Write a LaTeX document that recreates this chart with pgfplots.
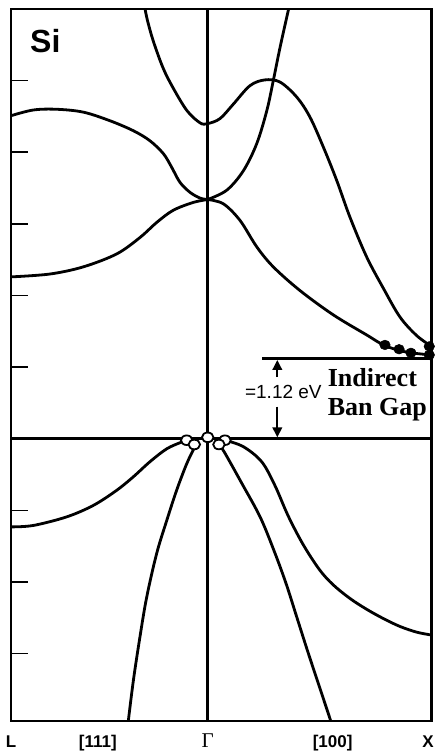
\documentclass[border=0pt]{standalone}
\usepackage{fontspec}
\setmainfont{Liberation Serif}
\setsansfont{Liberation Sans}
\usepackage{pgfplots}
\pgfplotsset{compat=1.18}
\usetikzlibrary{arrows.meta}

\begin{document}
\begin{tikzpicture}
\begin{axis}[
  name=ax,
  scale only axis,
  width=420.5pt, height=712pt,
  xmin=-0.879, xmax=1, ymin=-3.94, ymax=6,
  axis line style={line width=2.6pt},
  ytick={-3,-2,-1,1,2,3,4,5},
  yticklabels={},
  ytick pos=left,
  tick align=inside,
  major tick length=17pt,
  ytick style={black, line width=1.6pt},
  xtick={-0.879,-0.491,0,0.558,0.985},
  xticklabels={L,[111],{\rmfamily\mdseries\fontsize{21}{21}\selectfont Γ},[100],X},
  xtick style={draw=none},
  xticklabel style={font=\sffamily\bfseries\fontsize{17}{17}\selectfont, anchor=base, yshift=-26pt},
  band/.style={black, line width=2.8pt, smooth, tension=0.55, mark=none},
  edge/.style={black, line width=2.8pt, mark=none},
]

% conduction band: Gamma_2' branch (left and right of Gamma)
\addplot[band] coordinates {
 (-0.283,6.05) (-0.270,5.85) (-0.244,5.56) (-0.200,5.18) (-0.155,4.90)
 (-0.0925,4.58) (-0.034,4.41) (0,4.40) (0.055,4.47) (0.114,4.67)
 (0.189,4.93) (0.256,5.01) (0.323,4.98) (0.398,4.77) (0.457,4.49)
 (0.517,4.07) (0.576,3.61) (0.636,3.09) (0.710,2.54) (0.785,2.10)
 (0.859,1.70) (0.934,1.44) (1.0,1.29)};

% Gamma_15 bands along [111]
\addplot[band] coordinates {
 (-0.879,4.51) (-0.779,4.59) (-0.675,4.60) (-0.556,4.56) (-0.437,4.44)
 (-0.332,4.30) (-0.258,4.16) (-0.198,3.98) (-0.161,3.79) (-0.124,3.58)
 (-0.079,3.44) (-0.034,3.36) (0,3.34)};
\addplot[band] coordinates {
 (-0.879,2.26) (-0.705,2.30) (-0.556,2.40) (-0.407,2.58) (-0.3025,2.81)
 (-0.228,3.02) (-0.154,3.19) (-0.064,3.30) (0,3.34)};

% Gamma_15 bands along [100]
\addplot[band] coordinates {
 (0,3.34) (0.085,3.47) (0.159,3.74) (0.219,4.12) (0.264,4.58)
 (0.293,5.00) (0.323,5.46) (0.360,5.98) (0.365,6.05)};
\addplot[band] coordinates {
 (0,3.34) (0.070,3.28) (0.144,3.05) (0.219,2.68) (0.293,2.40)
 (0.412,2.07) (0.561,1.73) (0.710,1.45) (0.792,1.30) (0.889,1.21) (1.0,1.17)};

% valence bands
\addplot[band] coordinates {
 (-0.879,-1.23) (-0.779,-1.21) (-0.630,-1.09) (-0.511,-0.93) (-0.407,-0.72)
 (-0.332,-0.53) (-0.258,-0.32) (-0.183,-0.14) (-0.116,-0.045) (-0.094,-0.02)};
\addplot[band] coordinates {
 (-0.356,-3.97) (-0.332,-3.37) (-0.3025,-2.76) (-0.2726,-2.21) (-0.228,-1.60)
 (-0.183,-1.14) (-0.139,-0.72) (-0.094,-0.35) (-0.057,-0.11) (-0.049,-0.09)};
\addplot[band] coordinates {
 (0.077,-0.02) (0.159,-0.11) (0.241,-0.32) (0.300,-0.65) (0.360,-1.08)
 (0.427,-1.48) (0.500,-1.83) (0.561,-2.04) (0.636,-2.23) (0.710,-2.38)
 (0.785,-2.51) (0.859,-2.62) (0.934,-2.70) (1.0,-2.74)};
\addplot[band] coordinates {
 (0.050,-0.08) (0.075,-0.19) (0.152,-0.62) (0.234,-1.09) (0.296,-1.56)
 (0.350,-2.02) (0.398,-2.49) (0.447,-2.97) (0.500,-3.47) (0.553,-3.97)};

% reference lines: Gamma, valence band edge, conduction band edge
\addplot[edge] coordinates {(0,-3.94) (0,6)};
\addplot[edge] coordinates {(-0.879,0) (1,0)};
\addplot[edge] coordinates {(0.244,1.12) (1,1.12)};

% gap arrows
\addplot[black, line width=2.2pt, mark=none, -{Triangle[width=9.5pt,length=10pt]}] coordinates {(0.311,0.86) (0.311,1.10)};
\addplot[black, line width=2.2pt, mark=none, -{Triangle[width=9.5pt,length=10pt]}] coordinates {(0.311,0.45) (0.311,0.02)};

% electrons near the conduction band minimum
\addplot[only marks, mark=*, mark size=4.8pt, mark options={xscale=1.1, fill=black, draw=black, line width=0.5pt}]
 coordinates {(0.792,1.31) (0.855,1.25) (0.908,1.20) (0.99,1.29) (0.99,1.17)};

% holes at the valence band maximum
\addplot[only marks, mark=*, mark size=4.8pt, mark options={xscale=1.2, fill=white, draw=black, line width=1.8pt}]
 coordinates {(-0.094,-0.02) (-0.060,-0.08) (0,0.02) (0.077,-0.02) (0.050,-0.08)};

\node[anchor=base west, inner sep=0, font=\sffamily\bfseries\fontsize{32}{32}\selectfont] at (axis cs:-0.794,5.395) {Si};
\node[inner sep=0, font=\sffamily\fontsize{19}{19}\selectfont] at (axis cs:0.338,0.653) {=1.12 eV};
\node[anchor=base west, inner sep=0, font=\rmfamily\bfseries\fontsize{26}{26}\selectfont] at (axis cs:0.536,0.732) {Indirect};
\node[anchor=base west, inner sep=0, font=\rmfamily\bfseries\fontsize{26}{26}\selectfont] at (axis cs:0.536,0.328) {Ban Gap};
\end{axis}
\pgfresetboundingbox
\useasboundingbox ([xshift=-11pt,yshift=-34pt]ax.south west) rectangle ([xshift=3.5pt,yshift=9pt]ax.north east);
\end{tikzpicture}
\end{document}
